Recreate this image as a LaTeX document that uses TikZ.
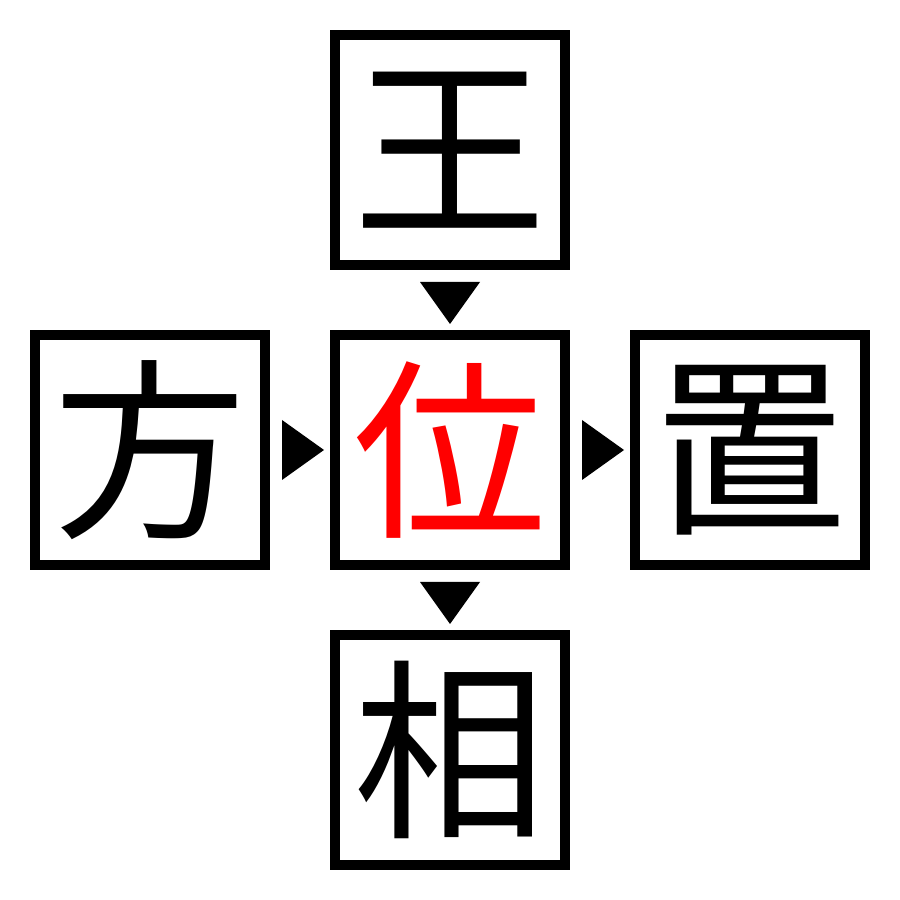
\documentclass[tikz,border=0pt]{standalone}
\usepackage{fontspec}
\usepackage{tikz}
\usetikzlibrary{calc}
\newfontfamily\kanji{Noto Sans CJK JP}

\begin{document}
\begin{tikzpicture}
            \tikzstyle{every node}=[draw,rectangle,line width=1mm,minimum size=23mm,inner sep=0pt,font=\kanji\fontsize{55}{55}\selectfont]
            \useasboundingbox (0,0) rectangle (9,9);
            \node[text=red] (wei) at (4.5,4.5) {位};
            \node (wang) at ($(wei) + (0,3)$) {王};
            \node (fang) at ($(wei) + (-3,0)$) {方};
            \node (zhi) at ($(wei) + (3,0)$) {置};
            \node (xiang) at ($(wei) + (0,-3)$) {相};
            \coordinate (m1) at ($(wang.south)!0.5!(wei.north)$);
            \coordinate (m2) at ($(wei.south)!0.5!(xiang.north)$);
            \coordinate (m3) at ($(fang.east)!0.5!(wei.west)$);
            \coordinate (m4) at ($(wei.east)!0.5!(zhi.west)$);
            \fill ($(m1) + (-0.3,0.18)$) -- ($(m1) + (0.3,0.18)$) -- ($(m1) + (0,-0.24)$) -- cycle;
            \fill ($(m2) + (-0.3,0.18)$) -- ($(m2) + (0.3,0.18)$) -- ($(m2) + (0,-0.24)$) -- cycle;
            \fill ($(m3) + (-0.18,0.3)$) -- ($(m3) + (-0.18,-0.3)$) -- ($(m3) + (0.24,0)$) -- cycle;
            \fill ($(m4) + (-0.18,0.3)$) -- ($(m4) + (-0.18,-0.3)$) -- ($(m4) + (0.24,0)$) -- cycle;
        \end{tikzpicture}
\end{document}
